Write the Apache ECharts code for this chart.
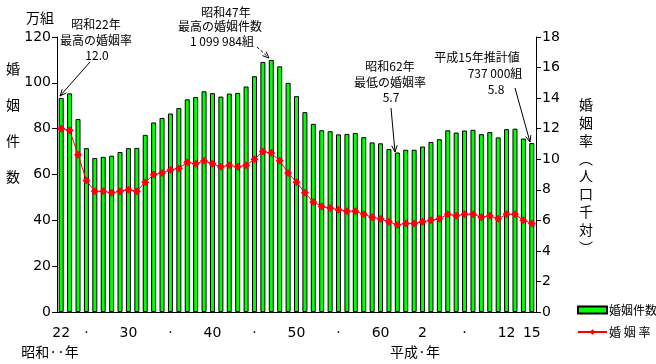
<!DOCTYPE html>
<html><head><meta charset="utf-8">
<script src="https://cdn.jsdelivr.net/npm/echarts@6/dist/echarts.min.js"></script>
<style>html,body{margin:0;padding:0;background:#fff}#c{width:656px;height:364px}</style>
</head><body><div id="c"></div>
<script>
// Years 1947 (昭和22) .. 2003 (平成15)
const years = [];
for (let y = 1947; y <= 2003; y++) years.push(String(y));
// 婚姻件数 (万組)
const marriages = [93.4,95.4,84.2,71.5,67.2,67.7,68.2,69.8,71.5,71.6,77.3,82.7,84.7,86.6,89.0,92.8,93.8,96.3,95.5,94.0,95.3,95.6,98.4,102.9,109.1,110.0,107.2,100.0,94.2,87.2,82.1,79.3,78.9,77.5,77.7,78.1,76.3,74.0,73.6,71.1,69.6,70.8,70.8,72.2,74.2,75.4,79.3,78.3,79.2,79.5,77.6,78.5,76.2,79.8,80.0,75.7,73.7];
// 婚姻率 (人口千対)
const rates = [12.0,11.9,10.3,8.6,7.9,7.9,7.8,7.9,8.0,7.9,8.5,9.0,9.1,9.3,9.4,9.8,9.7,9.9,9.7,9.5,9.6,9.5,9.6,10.0,10.5,10.4,9.9,9.1,8.5,7.8,7.2,6.9,6.8,6.7,6.6,6.6,6.4,6.2,6.1,5.9,5.7,5.8,5.8,5.9,6.0,6.1,6.4,6.3,6.4,6.4,6.2,6.3,6.1,6.4,6.4,6.0,5.8];
// x tick labels by year
const xTickLabels = {"1947":"22","1950":"·","1955":"30","1960":"·","1965":"40","1970":"·","1975":"50","1980":"·","1985":"60","1990":"2","1995":"·","2000":"12","2003":"15"};
const leftTicks = [0,20,40,60,80,100,120];
const rightTicks = [0,2,4,6,8,10,12,14,16,18];

const JP = '"Noto Sans CJK JP", sans-serif';
const NUM = '"DejaVu Sans", sans-serif';

function txt(x, y, s, size, align, lh) {
  return {type:'text', x:x, y:y, style:{text:s, font: (size||12)+'px '+JP, fill:'#000', align: align||'center', verticalAlign:'middle', lineHeight: lh||undefined}};
}
function arrow(x1,y1,x2,y2,dashed){
  const a = Math.atan2(y2-y1,x2-x1), L=7, w=0.4;
  const p1=[x2-L*Math.cos(a-w), y2-L*Math.sin(a-w)], p2=[x2-L*Math.cos(a+w), y2-L*Math.sin(a+w)];
  const st={stroke:'#000',lineWidth:1}; if(dashed) st.lineDash=[3,2];
  return [
    {type:'line', shape:{x1:x1,y1:y1,x2:x2,y2:y2}, style:st},
    {type:'polyline', shape:{points:[p1,[x2,y2],p2]}, style:{stroke:'#000',lineWidth:1,fill:null}}
  ];
}

const chart = echarts.init(document.getElementById('c'), null, {renderer:'canvas'});
chart.setOption({
  animation:false,
  backgroundColor:'#fff',
  grid:{left:57, right:120, top:37, bottom:52},
  legend:{
    orient:'vertical', left:572, top:299, itemWidth:29, itemHeight:7, itemGap:10,
    textStyle:{fontFamily:JP, fontSize:12, color:'#000', padding:[0,0,0,-3]},
    data:[{name:'婚姻件数', icon:'rect'}, {name:'婚 姻 率'}]
  },
  xAxis:{
    type:'category', data:years, boundaryGap:true,
    axisLine:{lineStyle:{color:'#000'}},
    axisTick:{show:false},
    axisLabel:{interval:0, margin:14, color:'#000', fontFamily:NUM, fontSize:14,
      formatter:(v)=> xTickLabels[v] || ''}
  },
  yAxis:[
    {type:'value', min:0, max:120, interval:20,
     axisLine:{show:true, lineStyle:{color:'#000'}},
     axisTick:{show:true, length:5, lineStyle:{color:'#000'}},
     splitLine:{show:false},
     axisLabel:{color:'#000', fontFamily:NUM, fontSize:14, margin:6}},
    {type:'value', min:0, max:18, interval:2,
     axisLine:{show:true, lineStyle:{color:'#000'}},
     axisTick:{show:true, length:5, lineStyle:{color:'#000'}},
     splitLine:{show:false},
     axisLabel:{color:'#000', fontFamily:NUM, fontSize:14, margin:6}}
  ],
  series:[
    {name:'婚姻件数', type:'bar', data:marriages, yAxisIndex:0, barWidth:5,
     itemStyle:{color:'#00ff00', borderColor:'#000', borderWidth:1}},
    {name:'婚 姻 率', type:'line', data:rates, yAxisIndex:1, symbol:'diamond', symbolSize:8,
     lineStyle:{color:'#ff0000', width:1}, itemStyle:{color:'#ff0000'}, z:5}
  ],
  graphic:[
    txt(40,18,'万組',14),
    txt(13,123,'婚\n\n姻\n\n件\n\n数',14,'center',18),
    txt(586,176,'婚\n姻\n率\n︵\n人\n口\n千\n対\n︶',14,'center',17.8),
    txt(50,352,'昭和··年',14,'center'),
    txt(415,352,'平成·年',14,'center'),
    txt(96,24,'昭和22年'),
    txt(96,40,'最高の婚姻率'),
    txt(97,55,'12.0'),
    ...arrow(90,62,60,96,false),
    txt(226,12,'昭和47年'),
    txt(220,26,'最高の婚姻件数'),
    txt(222,41,'1 099 984組'),
    ...arrow(257,47,269,58,true),
    txt(390,66,'昭和62年'),
    txt(390,82,'最低の婚姻率'),
    txt(391,97,'5.7'),
    ...arrow(391,108,395,152,false),
    txt(477,57,'平成15年推計値'),
    txt(495,73,'737 000組'),
    txt(496,89,'5.8'),
    ...arrow(515,88,530,142,false)
  ]
});
</script></body></html>
